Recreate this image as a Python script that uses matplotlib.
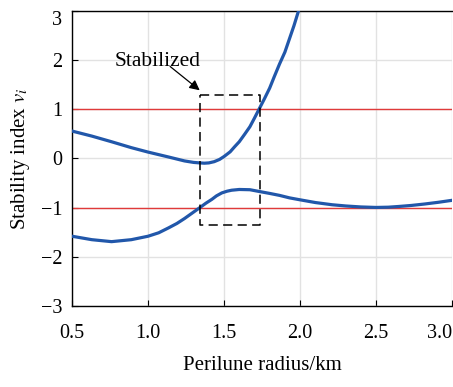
import matplotlib
matplotlib.use("Agg")
import matplotlib.pyplot as plt

plt.rcParams["font.family"] = ["Liberation Serif", "DejaVu Serif"]
plt.rcParams["mathtext.fontset"] = "stix"

# upper branch of the stability index
upper_r = [0.50, 0.63, 0.76, 0.89, 1.00, 1.135, 1.24, 1.30, 1.34, 1.37, 1.40, 1.435,
           1.47, 1.50, 1.54, 1.57, 1.60, 1.635, 1.67, 1.70, 1.73, 1.765, 1.80,
           1.83, 1.865, 1.90, 1.93, 1.96, 1.99]
upper_v = [0.557, 0.455, 0.34, 0.22, 0.13, 0.03, -0.05, -0.08, -0.09, -0.096, -0.09,
           -0.065, -0.02, 0.04, 0.135, 0.24, 0.34, 0.49, 0.645, 0.82, 1.0, 1.21,
           1.43, 1.66, 1.92, 2.16, 2.43, 2.70, 3.0]

# lower branch
lower_r = [0.50, 0.63, 0.76, 0.89, 1.00, 1.07, 1.135, 1.19, 1.24, 1.29, 1.34,
           1.38, 1.42, 1.45, 1.485, 1.52, 1.55, 1.60, 1.67, 1.73, 1.80, 1.865,
           1.93, 2.00, 2.10, 2.21, 2.30, 2.40, 2.50, 2.58, 2.65, 2.73, 2.82,
           2.91, 3.00]
lower_v = [-1.58, -1.65, -1.69, -1.65, -1.58, -1.51, -1.41, -1.32, -1.22, -1.11,
           -1.0, -0.91, -0.83, -0.76, -0.70, -0.665, -0.645, -0.63, -0.635, -0.67,
           -0.71, -0.75, -0.80, -0.84, -0.895, -0.94, -0.965, -0.985, -0.995, -0.99,
           -0.975, -0.955, -0.925, -0.89, -0.85]

bounds = [1.0, -1.0]
box_r = [1.34, 1.734]
box_v = [-1.36, 1.285]

fig = plt.figure(figsize=(4.53, 3.87), dpi=100)
ax = fig.add_axes([0.159, 0.209, 0.839, 0.763])

ax.grid(True, color="#e2e2e2", linewidth=1.0)
ax.set_axisbelow(True)

for b in bounds:
    ax.axhline(b, color="#e03a3a", linewidth=1.0, zorder=2)

ax.plot(upper_r, upper_v, color="#2157aa", linewidth=2.3, zorder=3)
ax.plot(lower_r, lower_v, color="#2157aa", linewidth=2.3, zorder=3)

ax.plot([box_r[0], box_r[1], box_r[1], box_r[0], box_r[0]],
        [box_v[1], box_v[1], box_v[0], box_v[0], box_v[1]],
        color="black", linestyle=(0, (6, 3.5)), linewidth=1.1, zorder=4)

ax.text(1.066, 1.97, "Stabilized", fontsize=15.5, ha="center", va="center")
ax.annotate("", xy=(box_r[0], box_v[1] + 0.1), xytext=(1.145, 1.87),
            arrowprops=dict(arrowstyle="-|>", color="black", lw=0.9,
                            mutation_scale=15, shrinkA=0, shrinkB=0))

ax.set_xlim(0.5, 3.0)
ax.set_ylim(-3, 3)
ax.set_xticks([0.5, 1.0, 1.5, 2.0, 2.5, 3.0])
ax.set_xticklabels(["0.5", "1.0", "1.5", "2.0", "2.5", "3.0"])
ax.set_yticks([-3, -2, -1, 0, 1, 2, 3])
ax.set_yticklabels(["\u22123", "\u22122", "\u22121", "0", "1", "2", "3"])
ax.tick_params(direction="in", labelsize=14.5, length=4, width=0.8)
ax.tick_params(axis="x", pad=13)
ax.tick_params(axis="y", pad=7)
ax.get_xticklabels()[-1].set_horizontalalignment("right")
ax.get_yticklabels()[-1].set_verticalalignment("top")

ax.spines["right"].set_visible(False)
for s in ["left", "bottom", "top"]:
    ax.spines[s].set_linewidth(1.0)

ax.set_xlabel("Perilune radius/km", fontsize=15, labelpad=9)
ax.set_ylabel("Stability index $v_i$", fontsize=15, labelpad=6)

fig.savefig("out.png", dpi=100)
